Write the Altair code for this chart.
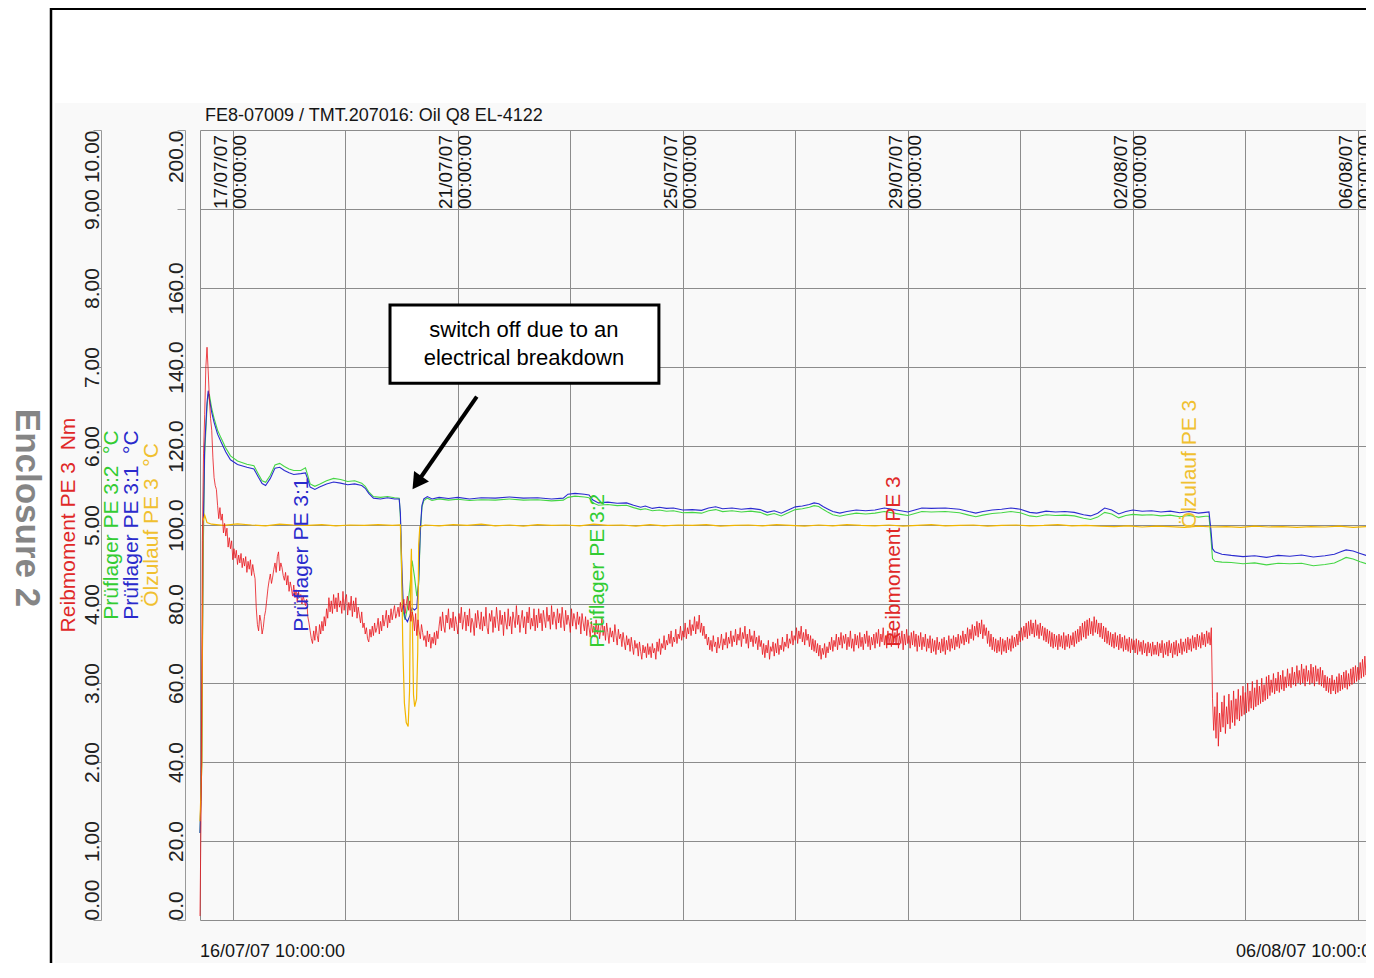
import altair as alt
import pandas as pd

FONT = "Liberation Sans"
RED, GREEN, BLUE, ORANGE = "#e8141b", "#45d645", "#2b2bd0", "#f2b600"
RED_T, GREEN_T, BLUE_T, ORANGE_T = "#e02828", "#33cc33", "#2a2acc", "#f0c030"
GRID = "#8c8c8c"
PX_PER_HOUR = 2.34375
W, H = 1166, 790
PAD = {"left": 192, "top": 122, "right": 0, "bottom": 43}

# ---------------- data ----------------
chart_title = "FE8-07009 / TMT.207016: Oil Q8 EL-4122"
start_label = "16/07/07 10:00:00"
end_label = "06/08/07 10:00:00"
date_labels = ["17/07/07", "21/07/07", "25/07/07", "29/07/07", "02/08/07", "06/08/07"]
grid_dates = ["17/07/07", "19/07/07", "21/07/07", "23/07/07", "25/07/07", "27/07/07",
              "29/07/07", "31/07/07", "02/08/07", "04/08/07", "06/08/07"]
time_label = "00:00:00"
temp_ticks = [0, 20, 40, 60, 80, 100, 120, 140, 160, 180, 200]
torque_ticks = [0, 1, 2, 3, 4, 5, 6, 7, 8, 9, 10]
series_names = ["Reibmoment PE 3", "Prüflager PE 3:2", "Prüflager PE 3:1", "Ölzulauf PE 3"]
series_units = ["Nm", "°C", "°C", "°C"]
note_lines = ["switch off due to an", "electrical breakdown"]
enclosure = "Enclosure 2"

# friction torque (Nm), one value every 30 minutes from 16/07/07 10:00
TORQUE_STEP_H = 0.5
torque_nm = (
    [0.05, 1.5, 4.8, 5.9, 6.4, 7.0, 7.25, 6.95, 6.6, 6.35, 6.2, 5.85, 5.6, 5.5, 5.45, 5.25, 5.08, 5.22, 5.06, 5.14, 4.9, 5.02, 4.86, 4.96,
     4.72, 4.84, 4.7, 4.8, 4.56, 4.7, 4.58, 4.68, 4.5, 4.62, 4.52, 4.64, 4.46, 4.58, 4.48, 4.6, 4.4, 4.54, 4.44, 4.56, 4.36, 4.5, 4.4, 4.32]
    + [3.95, 3.74, 3.66, 3.86, 3.78, 3.62, 3.7, 3.84, 3.92, 4.06, 4.2, 4.3, 4.38, 4.26, 4.34, 4.44, 4.52, 4.4, 4.6, 4.66, 4.42, 4.52, 4.46, 4.36,
       4.3, 4.4, 4.24, 4.36, 4.16, 4.28, 4.2, 4.1, 4.24, 4.08, 4.18, 4.02, 4.16, 4.08, 4.12, 4.0, 4.1, 4.04, 3.98, 4.06, 3.84, 3.76, 3.66, 3.56]
    + [3.5, 3.66, 3.54, 3.72, 3.6, 3.52, 3.74, 3.62, 3.78, 3.66, 3.84, 3.72, 3.94, 3.82, 4.08, 3.9, 4.04, 3.88, 4.12, 3.94, 4.08, 3.9, 4.14, 3.96,
       4.04, 3.88, 4.16, 3.92, 4.06, 4.12, 3.86, 4.02, 3.92, 4.1, 3.84, 4.04, 3.9, 4.08, 3.82, 3.96, 3.86, 3.76, 3.9, 3.7, 3.76, 3.62, 3.7, 3.56]
    + [3.52, 3.68, 3.58, 3.72, 3.6, 3.76, 3.64, 3.7, 3.82, 3.62, 3.78, 3.66, 3.86, 3.72, 3.8, 3.92, 3.7, 3.86, 3.76, 3.94, 3.8, 3.9, 3.98, 3.82,
       3.88, 3.96, 3.84, 4.02, 3.9, 3.96, 4.06, 3.88, 4.0, 4.1, 3.92, 4.04, 3.78, 3.9, 3.84, 3.66, 3.88, 3.6, 3.8, 3.66, 3.56, 3.74, 3.64, 3.54]
    + [3.6, 3.46, 3.66, 3.52, 3.62, 3.44, 3.58, 3.5, 3.64, 3.48, 3.66, 3.56, 3.72, 3.84, 3.66, 3.9, 3.72, 3.64, 3.86, 3.76, 3.94, 3.68, 3.82, 3.7,
       3.9, 3.66, 3.84, 3.74, 3.62, 3.88, 3.76, 3.96, 3.68, 3.8, 3.9, 3.66, 3.86, 3.72, 3.94, 3.64, 3.82, 3.76, 3.6, 3.88, 3.7, 3.92, 3.78, 3.68]
    + [3.9, 3.66, 3.84, 3.72, 3.96, 3.7, 3.62, 3.88, 3.78, 3.92, 3.64, 3.84, 3.7, 3.96, 3.8, 3.66, 3.92, 3.74, 3.86, 3.6, 3.9, 3.76, 3.68, 3.94,
       3.72, 3.84, 3.62, 3.9, 3.8, 3.7, 3.98, 3.74, 3.86, 3.64, 3.8, 3.92, 3.7, 3.84, 3.62, 3.9, 3.76, 3.96, 3.68, 3.82, 3.72, 3.94, 3.66, 3.86]
    + [3.7, 3.94, 3.76, 3.88, 3.66, 3.92, 3.8, 3.7, 3.96, 3.78, 3.86, 3.68, 3.98, 3.74, 3.9, 3.82, 3.68, 3.94, 3.76, 3.88, 3.7, 3.96, 3.8, 3.66,
       3.92, 3.74, 3.86, 3.78, 3.64, 3.94, 3.72, 3.88, 3.8, 3.68, 3.9, 3.74, 3.84, 3.62, 3.88, 3.76, 3.66, 3.84, 3.6, 3.8, 3.7, 3.58, 3.78, 3.64]
    + [3.72, 3.58, 3.8, 3.62, 3.74, 3.56, 3.68, 3.82, 3.6, 3.72, 3.54, 3.76, 3.64, 3.5, 3.7, 3.58, 3.66, 3.52, 3.74, 3.6, 3.48, 3.68, 3.56, 3.62,
       3.46, 3.64, 3.52, 3.42, 3.6, 3.48, 3.56, 3.4, 3.58, 3.46, 3.36, 3.54, 3.44, 3.5, 3.34, 3.52, 3.4, 3.3, 3.48, 3.38, 3.46, 3.32, 3.5, 3.36]
    + [3.46, 3.32, 3.5, 3.38, 3.44, 3.3, 3.52, 3.4, 3.56, 3.36, 3.5, 3.44, 3.6, 3.42, 3.54, 3.48, 3.62, 3.5, 3.66, 3.46, 3.58, 3.52, 3.68, 3.5,
       3.62, 3.56, 3.72, 3.54, 3.66, 3.58, 3.76, 3.56, 3.7, 3.62, 3.8, 3.6, 3.74, 3.66, 3.84, 3.62, 3.78, 3.68, 3.86, 3.64, 3.76, 3.6, 3.72, 3.56]
    + [3.62, 3.48, 3.58, 3.42, 3.54, 3.4, 3.6, 3.46, 3.52, 3.38, 3.58, 3.44, 3.5, 3.62, 3.42, 3.56, 3.48, 3.64, 3.44, 3.58, 3.5, 3.66, 3.46, 3.6,
       3.52, 3.68, 3.48, 3.62, 3.54, 3.7, 3.46, 3.64, 3.56, 3.72, 3.5, 3.62, 3.44, 3.68, 3.52, 3.6, 3.46, 3.66, 3.5, 3.58, 3.42, 3.6, 3.46, 3.54]
    + [3.36, 3.5, 3.32, 3.48, 3.38, 3.54, 3.3, 3.46, 3.4, 3.52, 3.34, 3.5, 3.38, 3.56, 3.36, 3.48, 3.42, 3.58, 3.4, 3.52, 3.46, 3.62, 3.44, 3.56,
       3.5, 3.66, 3.48, 3.6, 3.54, 3.7, 3.5, 3.66, 3.56, 3.72, 3.52, 3.64, 3.48, 3.68, 3.54, 3.62, 3.46, 3.6, 3.42, 3.56, 3.4, 3.54, 3.38, 3.5]
    + [3.34, 3.48, 3.3, 3.44, 3.36, 3.5, 3.32, 3.46, 3.38, 3.52, 3.42, 3.58, 3.4, 3.54, 3.46, 3.62, 3.42, 3.58, 3.48, 3.64, 3.44, 3.6, 3.5, 3.62,
       3.42, 3.58, 3.46, 3.66, 3.44, 3.56, 3.4, 3.62, 3.48, 3.6, 3.44, 3.64, 3.46, 3.58, 3.42, 3.62, 3.5, 3.66, 3.46, 3.6, 3.42, 3.58, 3.48, 3.62]
    + [3.44, 3.64, 3.5, 3.68, 3.46, 3.62, 3.52, 3.7, 3.48, 3.6, 3.44, 3.66, 3.5, 3.62, 3.46, 3.68, 3.52, 3.64, 3.48, 3.7, 3.44, 3.6, 3.5, 3.66,
       3.42, 3.62, 3.48, 3.68, 3.5, 3.6, 3.44, 3.64, 3.48, 3.66, 3.46, 3.62, 3.4, 3.6, 3.46, 3.64, 3.42, 3.58, 3.46, 3.62, 3.4, 3.56, 3.44, 3.6]
    + [3.38, 3.56, 3.4, 3.54, 3.36, 3.58, 3.42, 3.52, 3.38, 3.56, 3.4, 3.58, 3.36, 3.54, 3.42, 3.6, 3.4, 3.56, 3.44, 3.6, 3.42, 3.58, 3.46, 3.62,
       3.44, 3.6, 3.5, 3.66, 3.48, 3.62, 3.52, 3.7, 3.5, 3.68, 3.56, 3.74, 3.54, 3.72, 3.6, 3.78, 3.58, 3.76, 3.62, 3.8, 3.56, 3.74, 3.6, 3.7]
    + [3.5, 3.66, 3.46, 3.62, 3.42, 3.58, 3.4, 3.56, 3.38, 3.54, 3.4, 3.58, 3.36, 3.56, 3.4, 3.54, 3.38, 3.58, 3.42, 3.56, 3.4, 3.6, 3.44, 3.58,
       3.46, 3.62, 3.48, 3.66, 3.52, 3.7, 3.54, 3.72, 3.58, 3.76, 3.56, 3.78, 3.6, 3.8, 3.62, 3.76, 3.58, 3.8, 3.6, 3.74, 3.56, 3.76, 3.6, 3.72]
    + [3.54, 3.7, 3.52, 3.68, 3.5, 3.66, 3.46, 3.64, 3.44, 3.62, 3.46, 3.6, 3.42, 3.62, 3.46, 3.6, 3.44, 3.64, 3.42, 3.6, 3.46, 3.62, 3.44, 3.6,
       3.48, 3.64, 3.46, 3.66, 3.5, 3.68, 3.52, 3.72, 3.54, 3.76, 3.58, 3.78, 3.56, 3.8, 3.6, 3.82, 3.62, 3.78, 3.6, 3.84, 3.64, 3.8, 3.62, 3.76]
    + [3.58, 3.76, 3.56, 3.72, 3.52, 3.7, 3.5, 3.66, 3.48, 3.64, 3.46, 3.62, 3.44, 3.64, 3.46, 3.6, 3.42, 3.62, 3.44, 3.58, 3.4, 3.6, 3.42, 3.56,
       3.4, 3.58, 3.38, 3.56, 3.42, 3.54, 3.38, 3.56, 3.36, 3.54, 3.4, 3.52, 3.36, 3.54, 3.38, 3.5, 3.34, 3.52, 3.38, 3.5, 3.34, 3.52, 3.36, 3.48]
    + [3.36, 3.52, 3.34, 3.5, 3.38, 3.54, 3.32, 3.5, 3.36, 3.52, 3.34, 3.54, 3.38, 3.5, 3.32, 3.52, 3.36, 3.54, 3.34, 3.5, 3.38, 3.56, 3.36, 3.52,
       3.4, 3.56, 3.38, 3.58, 3.42, 3.56, 3.4, 3.6, 3.44, 3.58, 3.42, 3.62, 3.46, 3.6, 3.44, 3.64, 3.48, 3.62, 3.46, 3.66, 3.5, 3.64, 3.48, 3.7]
    + [2.8, 2.4, 2.7, 2.3, 2.88, 2.2, 2.62, 2.38, 2.76, 2.44, 2.84, 2.36, 2.7, 2.48, 2.86, 2.42, 2.78, 2.5, 2.9, 2.46, 2.8, 2.54, 2.92, 2.52,
       2.84, 2.58, 2.96, 2.6, 2.88, 2.62, 3.0, 2.64, 2.9, 2.68, 3.02, 2.66, 2.94, 2.7, 3.04, 2.72, 2.96, 2.74, 3.06, 2.76, 2.98, 2.78, 3.08, 2.8]
    + [3.1, 2.84, 3.04, 2.88, 3.12, 2.86, 3.06, 2.9, 3.14, 2.88, 3.1, 2.92, 3.16, 2.9, 3.08, 2.94, 3.18, 2.96, 3.12, 2.94, 3.2, 2.98, 3.14, 2.96,
       3.22, 3.0, 3.16, 2.98, 3.24, 3.0, 3.18, 2.96, 3.22, 3.02, 3.16, 2.98, 3.24, 3.0, 3.2, 2.96, 3.22, 3.02, 3.18, 2.98, 3.2, 2.96, 3.16, 2.94]
    + [3.1, 2.9, 3.08, 2.88, 3.06, 2.86, 3.1, 2.9, 3.04, 2.86, 3.08, 2.88, 3.12, 2.9, 3.1, 2.92, 3.14, 2.94, 3.16, 2.92, 3.12, 2.96, 3.18, 2.98,
       3.2, 3.0, 3.22, 3.02, 3.2, 3.04, 3.26, 3.06, 3.3, 3.08, 3.34, 3.1, 3.36, 3.12, 3.32, 3.14, 3.38, 3.12, 3.34, 3.16, 3.36, 3.14, 3.32, 3.18, 3.3]
)

# bearing temperatures (°C), hours since start
temp_hours = [
    0, 0.7, 1.3, 2.0, 3.0, 3.5, 4.0, 5.0, 6.0, 7.5,
    9, 11, 13, 16, 20, 23, 25, 26.5, 28, 30,
    32, 34, 36, 38, 40, 43, 45, 46, 47, 49,
    51, 54, 57, 60, 63, 66, 69, 70.5, 72, 74,
    77, 80, 83, 85, 85.5, 86, 86.7, 87.5, 88.5, 89.5,
    90.5, 91.5, 92.5, 93.3, 94, 94.7, 95.5, 97, 99, 102,
    106, 110, 115, 120, 126, 132, 138, 144, 150, 155,
    157, 160, 164, 166, 167.5, 170, 174, 178, 182, 185,
    188, 190, 193, 196, 199, 202, 206, 210, 214, 217,
    220, 223, 227, 231, 235, 239, 242, 245, 248, 251,
    254, 257, 260, 262, 264, 266, 268, 270, 273, 276,
    280, 284, 288, 292, 296, 299, 302, 305, 308, 312,
    318, 324, 328, 331, 334, 338, 342, 346, 350, 354,
    357, 361, 365, 369, 373, 377, 380, 383, 386, 389,
    392, 395, 398, 402, 406, 410, 414, 418, 422, 426,
    429, 430.5, 431.3, 432, 433, 436, 440, 445, 450, 455,
    460, 465, 470, 475, 480, 484, 487, 489, 492, 495,
    498, 501, 504,
]
temp_pe31 = [
    22, 40, 95, 120, 131, 134, 132, 128.5, 126, 123,
    121, 118.5, 116.5, 115.3, 114.6, 114.2, 112, 110.5, 110, 111.8,
    114.4, 114.6, 113.8, 113.2, 112.8, 113, 113.2, 111.5, 109.6, 109,
    109.6, 110.4, 110.9, 110.6, 110.2, 110.4, 110, 109.3, 108, 106.8,
    106.6, 106.9, 106.6, 106.6, 103, 92, 80, 76.5, 75.5, 77,
    79, 78.5, 79, 86, 99, 105, 106.6, 107.2, 106.6, 107,
    106.7, 107, 106.6, 106.9, 106.8, 107.1, 106.8, 106.9, 106.6, 106.8,
    107.8, 108, 107.8, 107.6, 106.4, 105.6, 105.8, 105.5, 105.6, 105,
    104.5, 104.8, 104.2, 104.5, 104.2, 104.3, 103.8, 103.9, 103.7, 104.3,
    104.6, 104.1, 104.3, 104.0, 104.2, 103.9, 103.2, 103.6, 103, 103.8,
    104.6, 104.8, 105.2, 105.6, 105.4, 104.6, 104, 103.4, 103, 103.4,
    103.8, 103.6, 103.8, 104.3, 103.9, 103.6, 103.3, 103.8, 104.3, 104.2,
    104.3, 104, 103.4, 103, 103.4, 103.8, 104, 104.3, 104, 103.2,
    103, 103.5, 103.3, 103.4, 103.2, 102.6, 102.3, 103, 104.3, 103.8,
    102.8, 103.4, 103.8, 103.5, 103.6, 103.3, 103.5, 103.1, 103.4, 103,
    103.2, 103.3, 99, 94, 93.2, 92.6, 92.3, 92, 92.2, 91.8,
    92.3, 92.1, 92.4, 91.9, 92.2, 92.6, 93.3, 93.7, 93.4, 92.8,
    92.2, 91.7, 91.5,
]
temp_pe32 = [
    22, 38, 90, 118, 130, 133, 133, 129.5, 127, 124,
    122, 119.5, 117.5, 116.2, 115.4, 115, 112.8, 111.2, 110.8, 112.6,
    115.2, 115.6, 114.8, 114.2, 113.8, 113.8, 114.5, 112.5, 110.4, 109.8,
    110.3, 111.2, 111.8, 111.5, 111, 111.2, 110.6, 109.8, 108.4, 107.2,
    107, 107.2, 106.9, 106.8, 102, 88, 78, 76, 79, 84,
    91, 87, 82, 85, 98, 104.5, 106.2, 106.8, 106.2, 106.6,
    106.3, 106.5, 106.2, 106.4, 106.3, 106.6, 106.3, 106.4, 106.1, 106.3,
    107, 107.3, 107.1, 106.9, 105.6, 105, 105.2, 104.9, 105, 104.4,
    103.9, 104.1, 103.6, 103.8, 103.5, 103.6, 103.1, 103.2, 103, 103.6,
    103.9, 103.4, 103.6, 103.3, 103.5, 103.2, 102.5, 102.9, 102.3, 103.1,
    103.9, 104.1, 104.5, 104.9, 104.7, 103.9, 103.2, 102.6, 102.2, 102.6,
    103, 102.8, 103, 103.4, 103, 102.7, 102.4, 102.9, 103.4, 103.3,
    103.4, 103.1, 102.5, 102.1, 102.5, 102.9, 103.1, 103.4, 103.1, 102.3,
    102.1, 102.6, 102.4, 102.5, 102.3, 101.7, 101.4, 102, 103.2, 102.8,
    101.8, 102.4, 102.7, 102.5, 102.6, 102.3, 102.5, 102.1, 102.4, 102,
    102.2, 102.2, 97, 91.5, 90.8, 90.6, 90.5, 90.2, 90.4, 89.9,
    90.3, 90.2, 90.3, 89.7, 90, 90.4, 91.2, 91.8, 91.4, 90.7,
    90.1, 89.7, 89.5,
]

# oil inlet temperature (°C)
oil_hours = [
    0, 0.8, 1.3, 2, 3, 5, 10, 16, 22, 28,
    34, 40, 46, 52, 58, 64, 70, 76, 82, 85.5,
    86.0, 86.5, 87.2, 88.0, 88.8, 89.4, 89.9, 90.2, 90.6, 91.1,
    91.6, 92.4, 92.9, 93.3, 93.8,
] + list(range(96, 505, 6))
oil_temp = [
    25, 40, 101, 102.5, 100.6, 100.2, 99.9, 100.3, 100.0, 99.8,
    100.2, 100.0, 99.9, 100.1, 99.8, 100.0, 99.9, 100.1, 99.9, 100.0,
    90, 70, 55, 50, 49, 58, 88, 94, 75, 57,
    54, 56, 68, 95, 99.6,
    100.0, 99.8, 100.1, 99.9, 100.2, 99.8, 100.0, 99.7, 100.1, 99.9,
    100.0, 99.8, 100.2, 99.9, 100.0, 99.7, 100.1, 99.8, 100.0, 99.9,
    100.1, 99.7, 99.9, 100.0, 99.8, 100.1, 99.9, 99.7, 100.0, 99.8,
    100.1, 99.9, 99.8, 100.0, 99.7, 99.9, 100.1, 99.8, 99.9, 100.0,
    99.7, 99.9, 100.0, 99.8, 99.9, 100.1, 99.8, 99.9, 99.7, 99.6,
    99.8, 99.5, 99.7, 99.6, 99.4, 99.7, 99.5, 99.6, 99.4, 99.7,
    99.5, 99.6, 99.4, 99.6, 99.5, 99.7, 99.4, 99.6, 99.5,
]

# ---------------- helpers ----------------
t0 = pd.to_datetime(start_label, format="%d/%m/%y %H:%M:%S")
t1 = pd.to_datetime(end_label, format="%d/%m/%y %H:%M:%S")
SPAN = (t1 - t0) / pd.Timedelta(hours=1)
VIEW_HOURS = W / PX_PER_HOUR


def hrs(day):
    return (pd.to_datetime(day, format="%d/%m/%y") - t0) / pd.Timedelta(hours=1)


def frame(h, v):
    n = min(len(h), len(v))
    return pd.DataFrame({"h": list(h)[:n], "v": list(v)[:n]})


XS = alt.Scale(domain=[0, VIEW_HOURS], nice=False, zero=False)
X_AX = alt.Axis(values=[0.0] + [hrs(d) for d in grid_dates], grid=True, gridColor=GRID, gridWidth=1,
                labels=False, ticks=False, domain=False, title=None)
YT = alt.Scale(domain=[0, 200], nice=False, zero=False)
YN = alt.Scale(domain=[0, 10], nice=False, zero=False)


def X(f="h"):
    return alt.X(f"{f}:Q", scale=XS, axis=X_AX)


def YTe(f="v", axis=None):
    return alt.Y(f"{f}:Q", scale=YT, axis=axis)


def flush(maxv):
    return {"condition": [{"test": "datum.value <= 0", "value": "left"},
                          {"test": f"datum.value >= {maxv}", "value": "right"}],
            "value": "center"}


def value_axis(offset, ticks, label_expr, maxv, grid):
    return alt.Axis(orient="left", offset=offset, values=ticks, labelExpr=label_expr,
                    labelAngle=270, labelAlign=flush(maxv), labelBaseline="bottom",
                    labelPadding=-9, tickSize=8, tickColor="#999999", domainColor="#999999",
                    grid=grid, gridColor=GRID, gridWidth=1, labelFont=FONT, labelFontSize=21,
                    labelColor="#222222", title=None, labelOverlap=False, labelFlush=False)


one = pd.DataFrame({"k": [0]})


def fixed_text(text, x, y, **kw):
    return alt.Chart(one).mark_text(text=text, font=FONT, **kw).encode(
        x=alt.value(x), y=alt.value(y))


def ypx(t):
    return H * (1 - t / 200.0)


layers = []

# page background pieces and frame
layers.append(alt.Chart(one).mark_rect(fill="white").encode(
    x=alt.value(-PAD["left"]), x2=alt.value(-145), y=alt.value(-PAD["top"]), y2=alt.value(H + PAD["bottom"])))
layers.append(alt.Chart(one).mark_rect(fill="white").encode(
    x=alt.value(-145), x2=alt.value(W), y=alt.value(-PAD["top"]), y2=alt.value(-27)))
layers.append(alt.Chart(one).mark_rule(color="black", strokeWidth=2.5).encode(
    x=alt.value(-149), y=alt.value(-PAD["top"]), y2=alt.value(H + PAD["bottom"])))
layers.append(alt.Chart(one).mark_rule(color="black", strokeWidth=2).encode(
    y=alt.value(-121), x=alt.value(-150), x2=alt.value(W)))
layers.append(fixed_text(enclosure, -173.5, 378, angle=90, fontSize=35, fontWeight="bold",
                         color="#858585", align="center", baseline="middle"))

# chart title
layers.append(fixed_text(chart_title, 5, -14, fontSize=18, color="#151515",
                         align="left", baseline="middle"))

# axis titles (rotated, coloured)
title_x = [-131.5, -88, -68, -48]
title_col = [RED_T, GREEN_T, BLUE_T, ORANGE_T]
for i in range(4):
    txt = series_names[i] + "\u00a0\u00a0" + series_units[i]
    layers.append(fixed_text(txt, title_x[i], 395, angle=270, fontSize=21, color=title_col[i],
                             align="center", baseline="middle"))

# data lines
temp_expr = "datum.value == 180 ? '' : format(datum.value, '.1f')"
torque_expr = "format(datum.value, '.2f')"
torque_hours = [i * TORQUE_STEP_H for i in range(len(torque_nm))]
layers.append(alt.Chart(frame(temp_hours, temp_pe32)).mark_line(color=GREEN, strokeWidth=1.1).encode(
    x=X(), y=YTe(axis=value_axis(15, temp_ticks, temp_expr, 200, True))))
layers.append(alt.Chart(frame(temp_hours, temp_pe31)).mark_line(color=BLUE, strokeWidth=1.1).encode(
    x=X(), y=YTe()))
layers.append(alt.Chart(frame(oil_hours, oil_temp)).mark_line(color=ORANGE, strokeWidth=1.2).encode(
    x=X(), y=YTe()))
layers.append(alt.Chart(frame(torque_hours, torque_nm)).mark_line(color=RED, strokeWidth=0.8).encode(
    x=X(), y=alt.Y("v:Q", scale=YN, axis=value_axis(99, torque_ticks, torque_expr, 10, False))))

# date labels at the top of the plot
dates_df = pd.DataFrame({"h": [hrs(d) for d in date_labels], "d": date_labels,
                         "t": [time_label] * len(date_labels)})
for field, dy in (("d", -11.5), ("t", 7.5)):
    layers.append(alt.Chart(dates_df).mark_text(angle=270, align="left", baseline="middle", dy=dy,
                                                fontSize=19, font=FONT, color="#151515").encode(
        x=X(), y=alt.value(ypx(180)), text=f"{field}:N"))

# in-plot series labels
inlabels = [
    (series_names[2], 43.6, 73.0, BLUE_T),
    (series_names[1], 169.6, 68.9, GREEN_T),
    (series_names[0], 296.3, 69.2, RED_T),
    (series_names[3], 422.5, 99.2, ORANGE_T),
]
for text, h, v, c in inlabels:
    layers.append(alt.Chart(pd.DataFrame({"h": [h], "v": [v]})).mark_text(
        text=text, angle=270, align="left", baseline="middle", fontSize=21, font=FONT, color=c).encode(
        x=X(), y=YTe()))

# annotation box, text and arrow
box_df = pd.DataFrame({"h": [81.07], "h2": [195.8], "v": [155.7], "v2": [135.9]})
layers.append(alt.Chart(box_df).mark_rect(fill="white", stroke="black", strokeWidth=3).encode(
    x=X(), x2=alt.X2("h2"), y=YTe(), y2=alt.Y2("v2")))
note_df = pd.DataFrame({"h": [138.2, 138.2], "v": [149.3, 142.2], "s": note_lines})
layers.append(alt.Chart(note_df).mark_text(fontSize=22, font=FONT, color="black", align="center",
                                           baseline="middle").encode(x=X(), y=YTe(), text="s:N"))
arrow_df = pd.DataFrame({"h": [118.1], "v": [132.5], "h2": [92.6], "v2": [110.7]})
layers.append(alt.Chart(arrow_df).mark_rule(color="black", strokeWidth=4).encode(
    x=X(), y=YTe(), x2=alt.X2("h2"), y2=alt.Y2("v2")))
head_df = pd.DataFrame({"h": [92.6], "v": [110.7]})
layers.append(alt.Chart(head_df).mark_point(shape="triangle-up", size=330, filled=True, color="black",
                                            opacity=1, angle=214.8).encode(x=X(), y=YTe()))

# bottom start / end labels
layers.append(alt.Chart(pd.DataFrame({"h": [0.0], "s": [start_label]})).mark_text(
    align="left", baseline="middle", fontSize=18, font=FONT, color="#151515").encode(
    x=X(), y=alt.value(822), text="s:N"))
layers.append(alt.Chart(pd.DataFrame({"h": [SPAN], "s": [end_label]})).mark_text(
    align="right", baseline="middle", fontSize=18, font=FONT, color="#151515").encode(
    x=X(), y=alt.value(822), text="s:N"))

chart = (
    alt.layer(*layers)
    .resolve_scale(y="independent")
    .properties(width=W, height=H, autosize=alt.AutoSizeParams(type="none"), padding=PAD)
    .configure(font=FONT, background="#f9f9f9")
    .configure_view(strokeWidth=0)
)

chart.save("out.html", embed_options={"renderer": "svg", "actions": False})
